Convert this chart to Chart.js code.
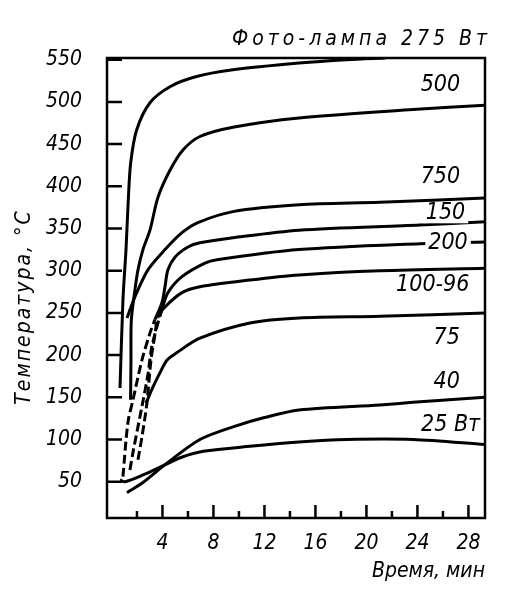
<!DOCTYPE html>
<html>
<head>
<meta charset="utf-8">
<script src="https://cdn.jsdelivr.net/npm/chart.js@4.4.1/dist/chart.umd.min.js"></script>
<style>
  html, body { margin: 0; padding: 0; background: #fff; }
  #wrap { width: 506px; height: 600px; }
</style>
</head>
<body>
<div id="wrap"><canvas id="chart"></canvas></div>
<script>
// Температура лампы во времени: [мин, °C]
const yTicks = [50, 100, 150, 200, 250, 300, 350, 400, 450, 500, 550];
const xTicks = [4, 8, 12, 16, 20, 24, 28];
const xMinorTicks = [2, 6, 10, 14, 18, 22, 26];

const lamp275 = [[0.67, 161], [0.9, 265], [1.14, 325], [1.32, 384], [1.51, 428], [1.98, 467], [3.02, 499],
  [4.59, 518], [6.68, 530], [9.53, 538], [14.71, 546], [18.43, 550], [21.5, 552]];
const lamp500 = [[1.5, 147], [1.53, 194], [1.56, 242], [1.84, 277], [2.08, 301], [2.47, 325], [3.02, 348],
  [3.65, 387], [4.59, 419], [5.61, 443], [6.94, 459], [9.53, 470], [14.71, 481], [23.65, 491], [29.3, 496]];
const lamp750 = [[1.22, 244], [1.84, 269], [2.86, 301], [4.2, 325], [5.53, 345], [6.78, 357], [9.53, 370],
  [14.71, 378], [21.06, 381], [29.3, 386]];
const lamp150Dash = [[0.9, 56], [1.29, 120], [1.69, 147], [2.39, 194], [3.02, 226], [3.41, 242]];
const lamp150 = [[3.96, 262], [4.2, 281], [4.43, 301], [4.98, 316], [6.0, 328], [6.94, 333], [9.53, 339],
  [14.71, 348], [24.2, 354], [29.3, 358]];
const lamp200Dash = [[1.45, 64], [1.69, 85], [2.39, 139], [2.86, 177], [3.18, 211], [3.96, 254]];
const lamp200 = [[4.43, 274], [5.53, 293], [7.33, 309], [8.27, 313], [14.71, 325], [24.2, 332], [29.3, 334]];
const lamp100Dash = [[2.08, 76], [2.39, 103], [2.78, 143], [3.1, 194], [3.41, 224], [3.65, 245]];
const lamp100 = [[4.2, 257], [5.53, 274], [6.94, 281], [10.86, 289], [14.71, 295], [21.06, 300], [29.3, 303]];
const lamp75 = [[2.71, 143], [3.25, 162], [3.8, 179], [4.35, 194], [5.14, 203], [6.94, 220], [10.86, 238],
  [14.71, 244], [21.06, 246], [29.3, 250]];
const lamp40 = [[1.22, 37], [2.47, 49], [4.35, 72], [6.94, 100], [9.53, 115], [12.0, 126], [14.71, 135],
  [21.06, 141], [23.65, 144], [29.3, 150]];
const lamp25 = [[0.67, 52], [1.06, 50], [2.47, 58], [4.2, 70], [5.5, 79], [7.2, 86], [10.86, 92], [14.71, 97],
  [18.43, 100], [23.65, 100], [29.3, 94]];

// подписи кривых: текст и точка привязки в единицах осей
const curveLabels = [
  ['500', 25.8, 520], ['750', 25.8, 411], ['150', 26.2, 368], ['200', 26.4, 333],
  ['100-96', 25.2, 283], ['75', 26.3, 220], ['40', 26.3, 168], ['25 Вт', 26.6, 117]
];

const NARROW = "'Liberation Sans Narrow', 'DejaVu Sans Condensed', sans-serif";
const COND = "'DejaVu Sans Condensed', 'Liberation Sans Narrow', sans-serif";

function curve(points, dashed) {
  const data = (dashed || []).concat(points);
  const nDash = dashed ? dashed.length : 0;
  return {
    data,
    borderColor: '#000',
    borderWidth: 3,
    pointRadius: 0,
    tension: 0.3,
    fill: false,
    segment: {
      borderDash: ctx => (ctx.p1DataIndex < nDash ? [9, 4] : undefined)
    }
  };
}

const decorations = {
  id: 'decorations',
  afterDraw(chart) {
    const { ctx, chartArea: a, scales: { x, y } } = chart;
    ctx.save();
    ctx.setLineDash([]);
    ctx.strokeStyle = '#000';
    ctx.lineCap = 'butt';

    // рамка
    ctx.lineWidth = 2.5;
    ctx.strokeRect(a.left, a.top, a.right - a.left, a.bottom - a.top);

    // засечки внутрь поля
    ctx.lineWidth = 2.5;
    ctx.beginPath();
    yTicks.forEach(v => {
      const py = y.getPixelForValue(v);
      ctx.moveTo(a.left, py);
      ctx.lineTo(a.left + 15, py);
    });
    xTicks.forEach(v => {
      const px = x.getPixelForValue(v);
      ctx.moveTo(px, a.bottom);
      ctx.lineTo(px, a.bottom - 13);
    });
    xMinorTicks.forEach(v => {
      const px = x.getPixelForValue(v);
      ctx.moveTo(px, a.bottom);
      ctx.lineTo(px, a.bottom - 7);
    });
    ctx.stroke();

    // подписи кривых на белой подложке
    ctx.font = `italic 23px ${COND}`;
    ctx.textAlign = 'center';
    ctx.textBaseline = 'middle';
    curveLabels.forEach(([text, vx, vy]) => {
      const px = x.getPixelForValue(vx);
      const py = y.getPixelForValue(vy);
      const w = ctx.measureText(text).width;
      ctx.fillStyle = '#fff';
      ctx.fillRect(px - w / 2 - 3, py - 10, w + 6, 20);
      ctx.fillStyle = '#000';
      ctx.fillText(text, px, py);
    });

    // заголовок верхней кривой
    ctx.font = `italic 21px ${COND}`;
    ctx.textAlign = 'right';
    ctx.letterSpacing = '4px';
    ctx.fillText('Фото-лампа 275 Вт', a.right + 6, a.top - 18);

    // подпись оси Y
    ctx.letterSpacing = '2px';
    ctx.translate(25, 307);
    ctx.rotate(-Math.PI / 2);
    ctx.textAlign = 'center';
    ctx.fillText('Температура, °С', 0, 0);
    ctx.restore();
  }
};

new Chart(document.getElementById('chart'), {
  type: 'line',
  data: {
    datasets: [
      curve(lamp275), curve(lamp500), curve(lamp750),
      curve(lamp150, lamp150Dash), curve(lamp200, lamp200Dash), curve(lamp100, lamp100Dash),
      curve(lamp75), curve(lamp40), curve(lamp25)
    ]
  },
  options: {
    responsive: true,
    maintainAspectRatio: false,
    animation: false,
    layout: { padding: { top: 58, right: 21, left: 0, bottom: 0 } },
    plugins: {
      legend: { display: false },
      tooltip: { enabled: false }
    },
    scales: {
      x: {
        type: 'linear',
        min: -0.35,
        max: 29.3,
        afterBuildTicks: s => { s.ticks = xTicks.map(v => ({ value: v })); },
        afterFit: s => { s.height = 82; },
        grid: { display: false, drawTicks: false },
        border: { display: false },
        ticks: {
          color: '#000',
          padding: 13,
          maxRotation: 0,
          font: { family: NARROW, size: 21, style: 'italic' }
        },
        title: {
          display: true,
          text: 'Время, мин',
          align: 'end',
          color: '#000',
          padding: { top: 0, bottom: 16 },
          font: { family: COND, size: 21, style: 'italic' }
        }
      },
      y: {
        type: 'linear',
        min: 7,
        max: 552,
        afterBuildTicks: s => { s.ticks = yTicks.map(v => ({ value: v })); },
        afterFit: s => { s.width = 107; },
        grid: { display: false, drawTicks: false },
        border: { display: false },
        ticks: {
          color: '#000',
          padding: 25,
          font: { family: NARROW, size: 21, style: 'italic' }
        }
      }
    }
  },
  plugins: [decorations]
});
</script>
</body>
</html>
